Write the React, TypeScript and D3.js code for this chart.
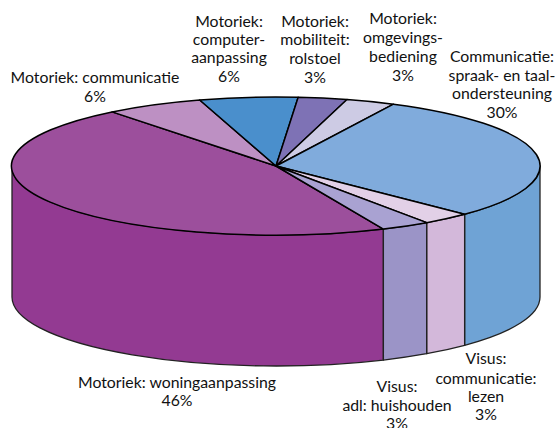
import React from "react";
import * as d3 from "d3";

const categories = [
  "Motoriek: woningaanpassing",
  "Motoriek: communicatie",
  "Motoriek: computeraanpassing",
  "Motoriek: mobiliteit: rolstoel",
  "Motoriek: omgevingsbediening",
  "Communicatie: spraak- en taalondersteuning",
  "Visus: communicatie: lezen",
  "Visus: adl: huishouden",
];
const values = [46, 6, 6, 3, 3, 30, 3, 3];
const labelLines = [
  ["Motoriek: woningaanpassing", "46%"],
  ["Motoriek: communicatie", "6%"],
  ["Motoriek:", "computer-", "aanpassing", "6%"],
  ["Motoriek:", "mobiliteit:", "rolstoel", "3%"],
  ["Motoriek:", "omgevings-", "bediening", "3%"],
  ["Communicatie:", "spraak- en taal-", "ondersteuning", "30%"],
  ["Visus:", "communicatie:", "lezen", "3%"],
  ["Visus:", "adl: huishouden", "3%"],
];

const topColors = ["#9c4f9c", "#bd90c3", "#4a8fcc", "#7e72b5", "#cdcbe4", "#80abdc", "#e2d0e7", "#a9a2d2"];
const wallColors = ["#933a92", "#bd90c3", "#4a8fcc", "#7e72b5", "#cdcbe4", "#6fa3d5", "#d3b8da", "#9b94c7"];
const labelX = [177, 95, 229, 315, 403, 502, 486, 397];
const labelY = [
  [388, 406],
  [83, 102],
  [27, 45, 63, 82],
  [27, 45, 64, 83],
  [24, 43, 62, 81],
  [62, 81, 99, 118],
  [364, 384, 402, 420],
  [392, 411, 429],
];

const W = 555, H = 428;
const cx = 276, cy = 166, rx = 264, ry = 69, depth = 131;
const rad = Math.PI / 180;
const startAngle = 156 * rad;

const pie = d3.pie<number>().sort(null).startAngle(startAngle).endAngle(startAngle + 2 * Math.PI);
const arcs = pie(values);
const arc = d3.arc<d3.PieArcDatum<number>>().innerRadius(0).outerRadius(1);

const px = (a: number) => cx + rx * Math.sin(a);
const py = (a: number, d = 0) => cy - ry * Math.cos(a) + d;

function wallPath(a0: number, a1: number) {
  const lo = Math.PI / 2, hi = (3 * Math.PI) / 2;
  for (const off of [0, 2 * Math.PI]) {
    const s = Math.max(a0 - off, lo), e = Math.min(a1 - off, hi);
    if (e > s) {
      return `M${px(s)},${py(s)}A${rx},${ry} 0 0 1 ${px(e)},${py(e)}` +
        `L${px(e)},${py(e, depth)}A${rx},${ry} 0 0 0 ${px(s)},${py(s, depth)}Z`;
    }
  }
  return null;
}

export default function App() {
  return (
    <svg width={W} height={H} viewBox={`0 0 ${W} ${H}`}
      style={{ position: "absolute", left: 0, top: 0, display: "block", background: "#fff" }}>
      {arcs.map((d, i) => {
        const p = wallPath(d.startAngle, d.endAngle);
        return p ? <path key={i} d={p} fill={wallColors[i]} stroke="#222" strokeWidth={1.3} strokeLinejoin="round" /> : null;
      })}
      <g transform={`translate(${cx},${cy}) scale(${rx},${ry})`}>
        {arcs.map((d, i) => (
          <path key={i} d={arc(d) as string} fill={topColors[i]} stroke="#000" strokeWidth={1.5}
            strokeLinejoin="round" vectorEffect="non-scaling-stroke">
            <title>{categories[i]}</title>
          </path>
        ))}
      </g>
      <g fontFamily="Lato" fontSize={15.8} fill="#111" textAnchor="middle">
        {labelLines.map((lines, i) => (
          <text key={i}>
            {lines.map((l, j) => (
              <tspan key={j} x={labelX[i]} y={labelY[i][j]}>{l}</tspan>
            ))}
          </text>
        ))}
      </g>
    </svg>
  );
}
